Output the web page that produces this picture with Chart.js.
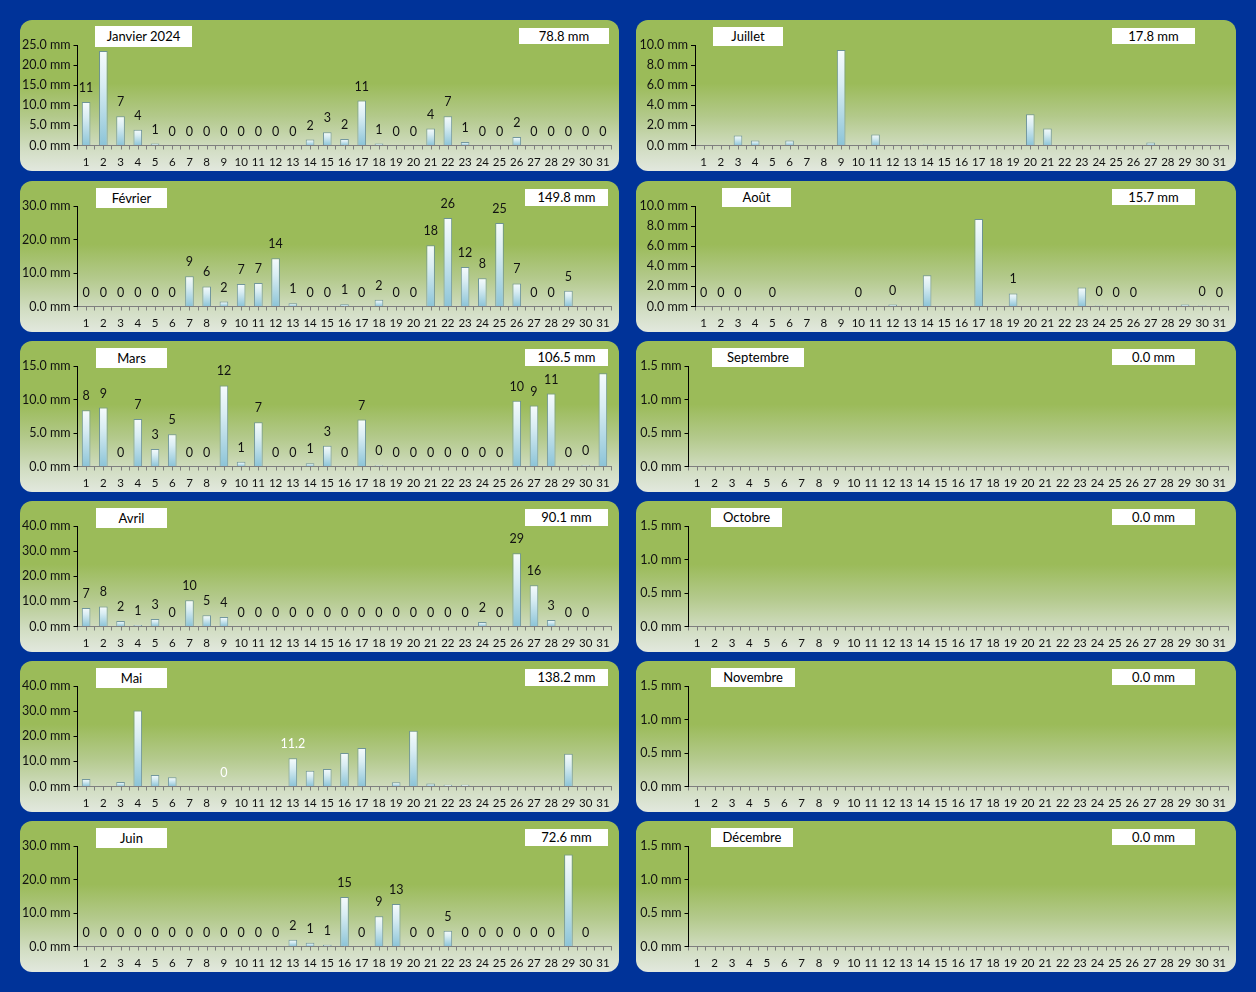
<!DOCTYPE html>
<html><head><meta charset="utf-8">
<script src="https://cdn.jsdelivr.net/npm/chart.js@4.4.1/dist/chart.umd.min.js"></script>
<style>
html,body{margin:0;padding:0;}
body{width:1256px;height:992px;background:#003399;position:relative;overflow:hidden;font-family:Lato,'Open Sans',sans-serif;}
.panel{position:absolute;border-radius:12px;overflow:hidden;background:linear-gradient(180deg,#9bbb59 0%,#9bbb59 42%,#b3c98b 64%,#d0dcc0 84%,#e2e8de 100%);}
.panel canvas{position:absolute;left:0;top:0;}
.box{position:absolute;background:#fff;color:#000;font-size:13px;text-align:center;white-space:nowrap;font-family:Lato,sans-serif;}
</style></head><body>
<script>
// ---- data ----
const days = Array.from({length:31},(_,k)=>String(k+1));
const monthNames = ["Janvier 2024","Février","Mars","Avril","Mai","Juin","Juillet","Août","Septembre","Octobre","Novembre","Décembre"];
const totals = [78.8,149.8,106.5,90.1,138.2,72.6,17.8,15.7,0.0,0.0,0.0,0.0];
const yMax  = [25,30,15,40,40,30,10,10,1.5,1.5,1.5,1.5];
const yStep = [5,10,5,10,10,10,2,2,0.5,0.5,0.5,0.5];

const janVals = [10.8,23.5,7.3,3.9,0.5,0,0,0,0,0,0,0,0,1.5,3.3,1.6,11.2,0.5,0,0,4.2,7.3,0.9,0,0,2.1,0,0,0,0,0];
const janLbls = ["11",null,"7","4","1","0","0","0","0","0","0","0","0","2","3","2","11","1","0","0","4","7","1","0","0","2","0","0","0","0","0"];
const febVals = [0,0,0,0,0,0,9.0,6.0,1.5,6.7,7.0,14.4,1.0,0,0,0.7,0,2.0,0,0,18.3,26.4,11.8,8.4,24.9,6.9,0,0,4.7,null,null];
const febLbls = ["0","0","0","0","0","0","9","6","2","7","7","14","1","0","0","1","0","2","0","0","18","26","12","8","25","7","0","0","5",null,null];
const marVals = [8.4,8.8,0,7.1,2.6,4.8,0,0,12.1,0.7,6.6,0,0,0.5,3.1,0,7.0,0.2,0,0,0,0,0,0,0,9.8,9.1,10.9,0,0.2,13.9];
const marLbls = ["8","9","0","7","3","5","0","0","12","1","7","0","0","1","3","0","7","0","0","0","0","0","0","0","0","10","9","11","0","0",null];
const aprVals = [7.4,8.0,2.2,0.6,3.0,0,10.4,4.5,3.8,0,0,0,0,0,0,0,0,0,0,0,0,0,0,1.8,0,29.2,16.4,2.6,0,0,null];
const aprLbls = ["7","8","2","1","3","0","10","5","4","0","0","0","0","0","0","0","0","0","0","0","0","0","0","2","0","29","16","3","0","0",null];
const mayVals = [3.0,0,1.8,30.2,4.6,3.7,0,0,0,0,0,0,11.2,6.3,7.0,13.3,15.3,0,1.7,22.2,1.2,0.7,0.7,0,0,0,0,0,13.0,0,0];
const mayLbls = [null,null,null,null,null,null,null,null,"0",null,null,null,"11.2",null,null,null,null,null,null,null,null,null,null,null,null,null,null,null,null,null,null];
const junVals = [0,0,0,0,0,0,0,0,0,0,0,0,2.0,1.1,0.5,14.8,0,9.0,12.7,0,0,4.7,0,0,0,0,0,0,27.5,0,null];
const junLbls = ["0","0","0","0","0","0","0","0","0","0","0","0","2","1","1","15","0","9","13","0","0","5","0","0","0","0","0","0",null,"0",null];
const julVals = [0,0,1.0,0.5,0,0.5,0,0,9.5,0,1.1,0,0,0.1,0,0,0,0,0,3.1,1.7,0,0,0,0,0,0.3,0,0,0,0];
const julLbls = [];
const augVals = [0,0,0,0,0,0,0,0,0,0,0,0.2,0,3.1,0,0,8.7,0,1.3,0,0,0,1.9,0.1,0,0,0,0,0.2,0.1,0];
const augLbls = ["0","0","0",null,"0",null,null,null,null,"0",null,"0",null,null,null,null,null,null,"1",null,null,null,null,"0","0","0",null,null,null,"0","0"];
const sepVals = [0,0,0,0,0,0,0,0,0,0,0,0,0,0,0,0,0,0,0,0,0,0,0,0,0,0,0,0,0,0,null];
const octVals = [0,0,0,0,0,0,0,0,0,0,0,0,0,0,0,0,0,0,0,0,0,0,0,0,0,0,0,0,0,0,0];
const novVals = [0,0,0,0,0,0,0,0,0,0,0,0,0,0,0,0,0,0,0,0,0,0,0,0,0,0,0,0,0,0,null];
const decVals = [0,0,0,0,0,0,0,0,0,0,0,0,0,0,0,0,0,0,0,0,0,0,0,0,0,0,0,0,0,0,0];

const allVals = [janVals,febVals,marVals,aprVals,mayVals,junVals,julVals,augVals,sepVals,octVals,novVals,decVals];
const allLbls = [janLbls,febLbls,marLbls,aprLbls,mayLbls,junLbls,julLbls,augLbls,[],[],[],[]];
const lblColor = ["#111","#111","#111","#111","#fff","#111","#111","#111","#111","#111","#111","#111"];

// ---- layout ----
const rowTops = [20,181,341,501,661,821];
const yAxisW = [57.5,57.5,57.5,57.5,57.5,57.5,59,59,52.5,52.5,52.5,52.5];
const titleBox = [[75,6,97,21],[76,7,71,20],[76,7,71,20],[76,7,71,20],[76,7,71,20],[76,7,71,20],
                  [77,7,70,19],[86,7,69,19],[76,7,92,19],[75,7,71,19],[75,7,84,19],[75,7,82,19]];
const totalBox = [[499,8,90,16],[505,8,83,17],[505,8,83,17],[505,8,83,17],[505,8,83,17],[505,8,83,17],
                  [476,8,83,16],[476,8,83,16],[476,8,83,16],[476,8,83,16],[476,8,83,16],[476,8,83,16]];

function barFill(c){
  const ch = c.chart;
  if (c.type !== 'data' || !ch.scales || !ch.scales.y) return '#bfe0ea';
  const v = c.raw;
  if (!v) return '#dfeff4';
  const ys = ch.scales.y;
  const top = ys.getPixelForValue(v), bot = ys.getPixelForValue(0);
  if (!isFinite(top) || bot - top < 2) return '#dfeff4';
  const g = ch.ctx.createLinearGradient(0, top, 0, bot);
  g.addColorStop(0, '#f6fbfc');
  g.addColorStop(0.35, '#d9edf3');
  g.addColorStop(1, '#8cc4d7');
  return g;
}

const dayLabelPlugin = {
  id:'dayLabels',
  afterDatasetsDraw(chart, args, opts){
    const texts = opts.texts || [];
    const meta = chart.getDatasetMeta(0);
    const data = chart.data.datasets[0].data;
    const ys = chart.scales.y;
    const ctx = chart.ctx;
    ctx.save();
    ctx.font = '12.5px Lato, sans-serif';
    ctx.fillStyle = opts.color || '#111';
    ctx.textAlign = 'center';
    ctx.textBaseline = 'middle';
    texts.forEach((t,k)=>{
      if (t == null || !meta.data[k]) return;
      const x = meta.data[k].x;
      const y = ys.getPixelForValue(data[k] || 0) - 14;
      ctx.fillText(t, x, y);
    });
    ctx.restore();
  }
};
const centerTickPlugin = {
  id:'centerTicks',
  afterDraw(chart){
    const xs = chart.scales.x, ctx = chart.ctx;
    ctx.save();
    ctx.strokeStyle = '#7f7f7f'; ctx.lineWidth = 1;
    ctx.beginPath();
    for (let k=0;k<xs.ticks.length;k++){
      const x = Math.round(xs.getPixelForTick(k)) + 0.5;
      ctx.moveTo(x, xs.top); ctx.lineTo(x, xs.top + 4);
    }
    ctx.stroke();
    ctx.restore();
  }
};

for (let i=0;i<12;i++){
  const col = i<6 ? 0 : 1, row = i%6;
  const left = col ? 636 : 20, w = col ? 600 : 599, h = 151;
  const panel = document.createElement('div');
  panel.className = 'panel';
  panel.style.left = left+'px'; panel.style.top = rowTops[row]+'px';
  panel.style.width = w+'px'; panel.style.height = h+'px';
  const cv = document.createElement('canvas');
  cv.width = w; cv.height = h;
  cv.style.width = w+'px'; cv.style.height = h+'px';
  panel.appendChild(cv);
  const tb = titleBox[i];
  const t = document.createElement('div');
  t.className='box';
  t.style.cssText += `left:${tb[0]}px;top:${tb[1]}px;width:${tb[2]}px;height:${tb[3]}px;line-height:${tb[3]}px;`;
  t.textContent = monthNames[i];
  panel.appendChild(t);
  const ob = totalBox[i];
  const o = document.createElement('div');
  o.className='box';
  o.style.cssText += `left:${ob[0]}px;top:${ob[1]}px;width:${ob[2]}px;height:${ob[3]}px;line-height:${ob[3]}px;`;
  o.textContent = totals[i].toFixed(1)+' mm';
  panel.appendChild(o);
  document.body.appendChild(panel);

  const yw = yAxisW[i];
  new Chart(cv, {
    type:'bar',
    data:{labels:days, datasets:[{data:allVals[i], backgroundColor:barFill,
      borderColor:'rgba(100,140,155,0.85)', borderWidth:{top:1,left:1,right:1,bottom:0},
      borderSkipped:false, barPercentage:0.5, categoryPercentage:1.0}]},
    options:{
      responsive:false, animation:false, devicePixelRatio:1,
      layout:{padding:{top:25,right:w-(col?592:591.5),left:0,bottom:0}},
      plugins:{legend:{display:false}, tooltip:{enabled:false},
        dayLabels:{texts:allLbls[i], color:lblColor[i]}},
      scales:{
        x:{grid:{display:true,drawOnChartArea:false,offset:true,tickLength:4,color:'#7f7f7f'},
           border:{color:'#7f7f7f'},
           ticks:{autoSkip:false,maxRotation:0,minRotation:0,padding:6,color:'#111',font:{family:'Lato',size:11.5}},
           afterFit(s){ s.height = 25.5; }},
        y:{min:0,max:yMax[i],
           grid:{drawOnChartArea:false,tickLength:4,color:'#000'},
           border:{color:'#000'},
           ticks:{stepSize:yStep[i],padding:3,color:'#111',font:{family:'Lato',size:12.5},
                  callback:v=>Number(v).toFixed(1)+' mm'},
           afterFit(s){ s.width = yw; }}
      }
    },
    plugins:[dayLabelPlugin, centerTickPlugin]
  });
}
</script>
</body></html>
